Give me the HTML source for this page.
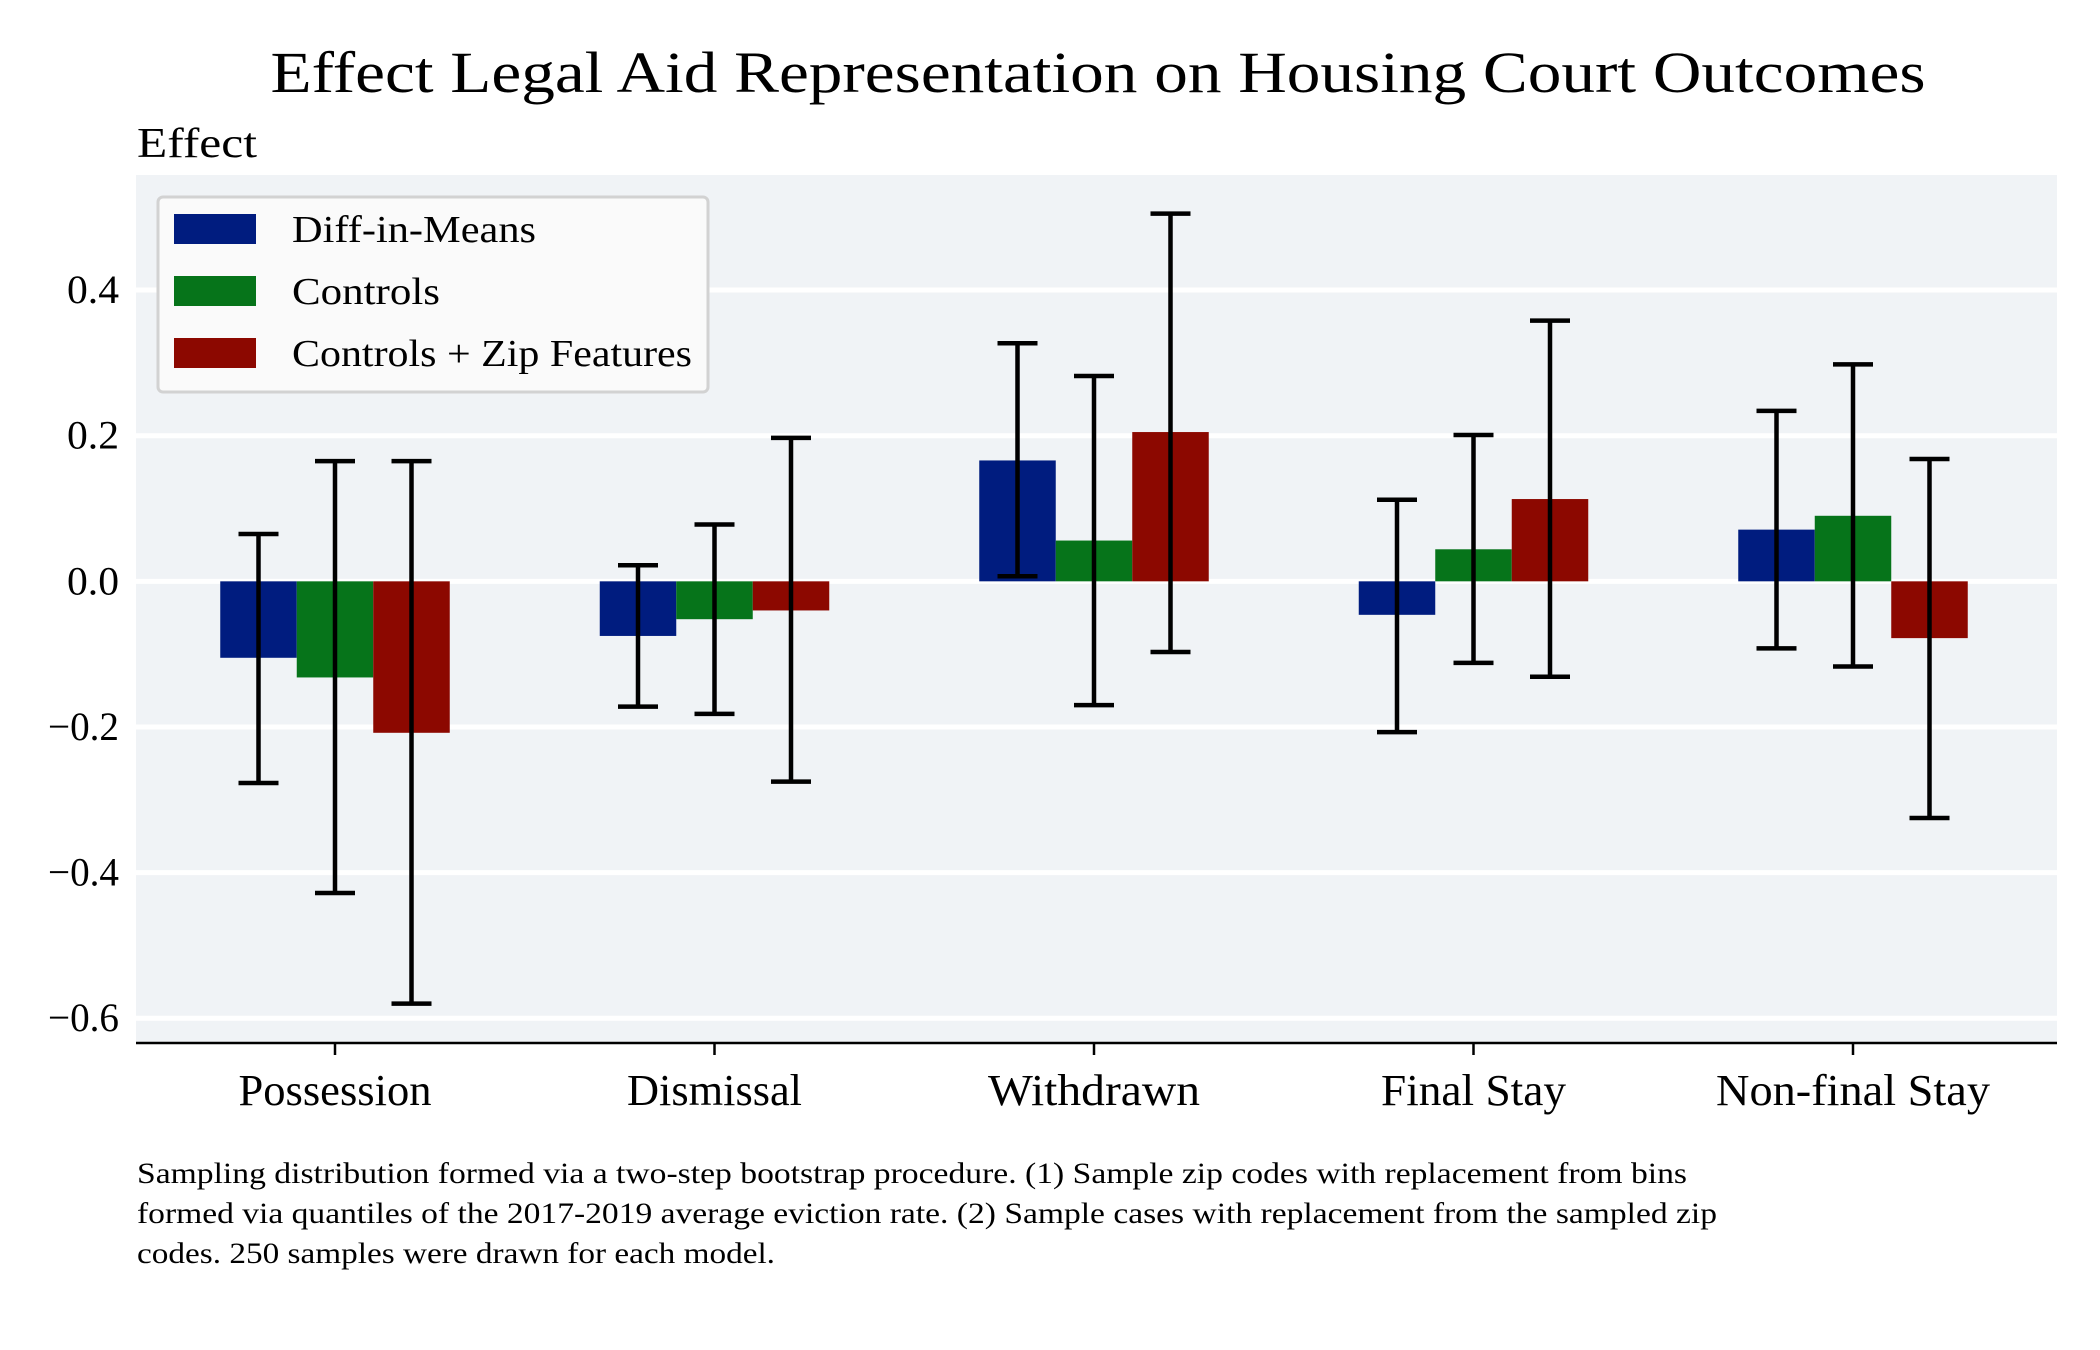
<!DOCTYPE html>
<html><head><meta charset="utf-8"><style>
body{margin:0;background:#fff}
svg{display:block;font-family:"Liberation Serif",serif}
</style></head><body>
<svg id="chart" width="2100" height="1350" viewBox="0 0 2100 1350" xmlns="http://www.w3.org/2000/svg">
<text x="1098" y="92" font-size="58" text-anchor="middle" textLength="1655" lengthAdjust="spacingAndGlyphs">Effect Legal Aid Representation on Housing Court Outcomes</text>
<text x="137" y="157" font-size="42" textLength="120" lengthAdjust="spacingAndGlyphs">Effect</text>
<rect x="136" y="175" width="1921" height="868" fill="#f0f3f6"/>
<g id="grid"></g>
<g id="bars"></g>
<g id="errs"></g>
<line x1="136" x2="2057" y1="1043" y2="1043" stroke="#000" stroke-width="2.5"/>
<g id="xlabels"></g>
<g>
<rect x="158" y="197" width="550" height="195" rx="5" fill="#fafafa" stroke="#d2d2d2" stroke-width="3"/>
<g id="legend-items"></g>
</g>
<g font-size="30">
<text x="137" y="1183" textLength="1550" lengthAdjust="spacingAndGlyphs">Sampling distribution formed via a two-step bootstrap procedure. (1) Sample zip codes with replacement from bins</text>
<text x="137" y="1223" textLength="1580" lengthAdjust="spacingAndGlyphs">formed via quantiles of the 2017-2019 average eviction rate. (2) Sample cases with replacement from the sampled zip</text>
<text x="137" y="1263" textLength="638" lengthAdjust="spacingAndGlyphs">codes. 250 samples were drawn for each model.</text>
</g>
</svg>
<script>
const categories = ["Possession","Dismissal","Withdrawn","Final Stay","Non-final Stay"];
const seriesNames = ["Diff-in-Means","Controls","Controls + Zip Features"];
const diffMeans = [-0.105,-0.075,0.166,-0.046,0.071];
const diffLow = [-0.277,-0.172,0.007,-0.207,-0.092];
const diffHigh = [0.065,0.022,0.327,0.112,0.234];
const controls = [-0.132,-0.052,0.056,0.044,0.090];
const controlsLow = [-0.428,-0.182,-0.170,-0.112,-0.117];
const controlsHigh = [0.165,0.078,0.282,0.201,0.298];
const zipFeat = [-0.208,-0.040,0.205,0.113,-0.078];
const zipLow = [-0.580,-0.275,-0.097,-0.131,-0.325];
const zipHigh = [0.165,0.197,0.505,0.358,0.168];
const yTicks = [-0.6,-0.4,-0.2,0.0,0.2,0.4];
const yTickLabels = ["−0.6","−0.4","−0.2","0.0","0.2","0.4"];

const NS="http://www.w3.org/2000/svg";
const colors=["#001c7f","#06741a","#8c0800"];
const labelW=[193,175,212,185,274];
const legendW=[244,148,400];
const plotL=136,plotR=2057,plotT=175,plotB=1043;
const yMin=-0.634,yMax=0.558;
function y(v){return plotB-(v-yMin)/(yMax-yMin)*(plotB-plotT);}
const step=379.5;
function xc(i){return 335+step*i;}
const bw=76.5;
function mk(t,a,p){const e=document.createElementNS(NS,t);for(const k in a)e.setAttribute(k,a[k]);p.appendChild(e);return e;}
const grid=document.getElementById('grid');
yTicks.forEach((t,i)=>{
  const g=mk('line',{x1:plotL,x2:plotR,y1:y(t),y2:y(t),stroke:'#fff','stroke-width':5},grid);
  
  
  const lab=yTickLabels[i];
  const tx=mk('text',{x:119,y:y(t)+13,'font-size':40,'text-anchor':'end',textLength:lab.length>3?71:52,lengthAdjust:'spacingAndGlyphs'},grid);
  
  
  tx.textContent=lab;
});
const vals=[diffMeans,controls,zipFeat],lows=[diffLow,controlsLow,zipLow],highs=[diffHigh,controlsHigh,zipHigh];
const bars=document.getElementById('bars'),errs=document.getElementById('errs'),xl=document.getElementById('xlabels');
categories.forEach((c,i)=>{
  for(let s=0;s<3;s++){
    const cx=xc(i)+(s-1)*bw, v=vals[s][i];
    const r=mk('rect',{x:cx-bw/2,y:Math.min(y(v),y(0)),width:bw,height:Math.abs(y(v)-y(0)),fill:colors[s]},bars);
    
    
    const g=mk('g',{stroke:'#000','stroke-width':4.5},errs);
    
    
    const lo=y(lows[s][i]),hi=y(highs[s][i]);
    mk('line',{x1:cx,x2:cx,y1:lo,y2:hi},g);
    mk('line',{x1:cx-20,x2:cx+20,y1:lo,y2:lo},g);
    mk('line',{x1:cx-20,x2:cx+20,y1:hi,y2:hi},g);
  }
  const tk=mk('line',{x1:xc(i),x2:xc(i),y1:1043,y2:1055,stroke:'#000','stroke-width':2.5},xl);
  
  
  const t=mk('text',{x:xc(i),y:1105,'font-size':44,'text-anchor':'middle',textLength:labelW[i],lengthAdjust:'spacingAndGlyphs'},xl);
  
  
  t.textContent=c;
});
const li=document.getElementById('legend-items');
seriesNames.forEach((n,s)=>{
  const yy=229+s*62;
  const r=mk('rect',{x:174,y:yy-15,width:82,height:30,fill:colors[s]},li);
  
  
  const t=mk('text',{x:292,y:yy+13,'font-size':38,textLength:legendW[s],lengthAdjust:'spacingAndGlyphs'},li);
  
  
  t.textContent=n;
});
</script>
</body></html>
